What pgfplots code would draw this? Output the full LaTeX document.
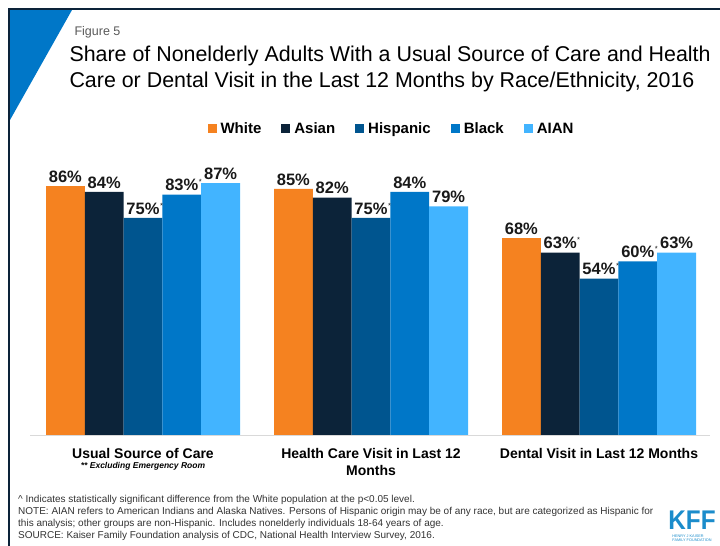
\documentclass[border=0pt]{standalone}
\usepackage{pgfplots}
\pgfplotsset{compat=1.18}
\usepackage{fontspec}
\setmainfont{Liberation Sans}
\definecolor{cWhite}{HTML}{F58220}
\definecolor{cAsian}{HTML}{0C2339}
\definecolor{cHisp}{HTML}{00558F}
\definecolor{cBlack}{HTML}{0077C8}
\definecolor{cAIAN}{HTML}{42B4FF}
\definecolor{frameC}{HTML}{0C2339}
\definecolor{triC}{HTML}{0077C8}
\definecolor{kffC}{HTML}{1B8CCB}
\newcommand{\sig}{\rlap{\hspace{0.5pt}\raisebox{6pt}{\fontsize{7.5}{8}\selectfont\mdseries *}}}
\begin{document}
\begin{tikzpicture}[x=1pt,y=1pt]
\path[use as bounding box] (0,0) rectangle (720,546);
% frame and corner triangle
\fill[triC] (10,536) -- (72,536) -- (10,426) -- cycle;
\draw[frameC, line width=2pt] (721,537) -- (9,537) -- (9,-1);
% titles
\node[anchor=base west, text=black!65, font=\fontsize{12.5}{15}\selectfont] at (71,510) {Figure 5};
\node[anchor=base west, font=\fontsize{21.4}{25}\selectfont] at (66,484)
  {Share of Nonelderly Adults With a Usual Source of Care and Health};
\node[anchor=base west, font=\fontsize{21.4}{25}\selectfont] at (66,458)
  {Care or Dental Visit in the Last 12 Months by Race/Ethnicity, 2016};
\begin{axis}[
  at={(30pt,111pt)}, anchor=south west,
  scale only axis, width=680pt, height=289.5pt,
  xmin=30, xmax=710, ymin=0, ymax=100,
  clip=false,
  ybar=0pt, bar width=38.8pt,
  axis y line=none,
  axis x line*=bottom,
  x axis line style={draw=black!15, line width=0.8pt, -},
  xtick={143,371,599},
  xticklabels={{Usual Source of Care\\[-7pt]\fontsize{8.5}{10}\selectfont\itshape ** Excluding Emergency Room},{Health Care Visit in Last 12\\Months},{Dental Visit in Last 12 Months}},
  xtick style={draw=none},
  xticklabel style={align=center, font=\fontsize{14}{17}\selectfont\bfseries, yshift=-6pt},
  ytick=\empty,
  point meta=explicit symbolic,
  nodes near coords,
  every node near coord/.append style={font=\fontsize{16.5}{18}\selectfont\bfseries, text=black!90},
  legend columns=5,
  legend image code/.code={\fill[#1] (0pt,-4.5pt) rectangle (9pt,4.5pt);},
  legend style={draw=none, fill=none, at={(axis cs:391.5,105.7)}, anchor=center,
    font=\fontsize{15}{18}\selectfont\bfseries,
    nodes={inner sep=2pt},
    /tikz/every odd column/.append style={column sep=2pt},
    /tikz/every even column/.append style={column sep=18pt}},
]
\addplot[fill=cWhite, draw=none] coordinates {(143,86)[86\%] (371,85)[85\%] (599,68)[68\%]};
\addplot[fill=cAsian, draw=none] coordinates {(143,84)[84\%] (371,82)[82\%] (599,63)[63\%\sig]};
\addplot[fill=cHisp, draw=none] coordinates {(143,75)[75\%\sig] (371,75)[75\%\sig] (599,54)[54\%\sig]};
\addplot[fill=cBlack, draw=none] coordinates {(143,83)[83\%\sig] (371,84)[84\%] (599,60)[60\%\sig]};
\addplot[fill=cAIAN, draw=none] coordinates {(143,87)[87\%] (371,79)[79\%] (599,63)[63\%]};
\legend{White,Asian,Hispanic,Black,AIAN}
\end{axis}
% notes
\begin{scope}[every node/.style={anchor=base west, text=black!80, font=\fontsize{10}{12}\selectfont, inner sep=0pt}]
\node at (18,43) {\textasciicircum{} Indicates statistically significant difference from the White population at the p<0.05 level.};
\node at (18,31) {NOTE: AIAN refers to American Indians and Alaska Natives. Persons of Hispanic origin may be of any race, but are categorized as Hispanic for};
\node at (18,19) {this analysis; other groups are non-Hispanic. Includes nonelderly individuals 18-64 years of age.};
\node at (18,7) {SOURCE: Kaiser Family Foundation analysis of CDC, National Health Interview Survey, 2016.};
\end{scope}
% logo
\node[anchor=base, inner sep=0pt, text depth=0pt, text=kffC, font=\fontsize{27}{27}\selectfont\bfseries] at (692,16.5) {\scalebox{0.9}[1]{KFF}};
\node[anchor=north, text=kffC, align=left, inner sep=0pt, font=\fontsize{3.8}{4.3}\selectfont] at (692,11.5) {HENRY J KAISER\\FAMILY FOUNDATION};
\end{tikzpicture}
\end{document}
